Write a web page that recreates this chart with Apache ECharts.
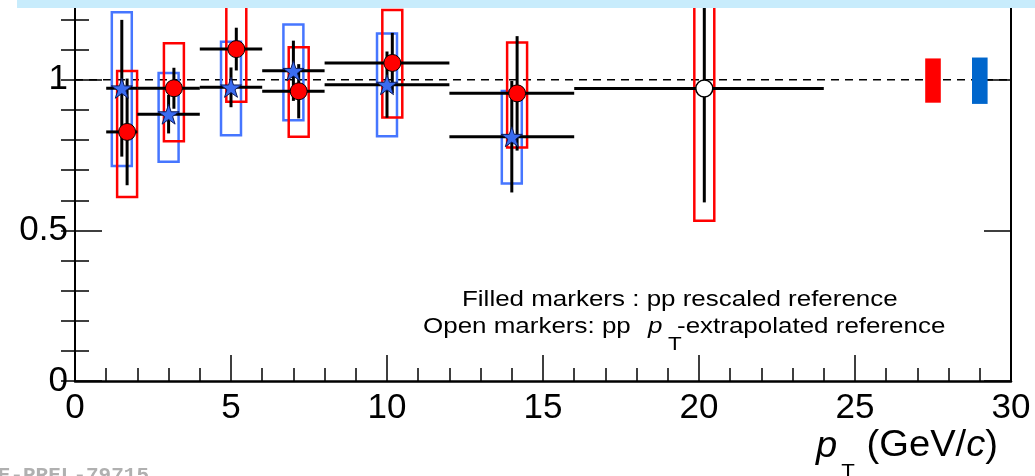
<!DOCTYPE html>
<html>
<head>
<meta charset="utf-8">
<script src="https://cdn.jsdelivr.net/npm/echarts@6/dist/echarts.min.js"></script>
<style>
  html, body { margin: 0; padding: 0; background: #ffffff; }
  #chart { width: 1035px; height: 476px; }
</style>
</head>
<body>
<div id="chart"></div>
<script>
// ---- pT bins (GeV/c) shared by both measurements ----
const binLow  = [1, 2, 4, 6, 8, 12];
const binHigh = [2, 4, 6, 8, 12, 16];

// ---- blue stars ----
const starPt      = [1.5, 3.0, 5.0, 7.0, 10.0, 14.0];
const starR       = [0.972, 0.886, 0.975, 1.030, 0.984, 0.811];
const starStat    = [0.227, 0.064, 0.066, 0.100, 0.110, 0.185];
const starSysLow  = [0.714, 0.728, 0.816, 0.866, 0.813, 0.656];
const starSysHigh = [1.224, 1.023, 1.126, 1.184, 1.154, 0.963];

// ---- red circles (pp rescaled reference) ----
const circPt      = [1.67, 3.17, 5.17, 7.17, 10.17, 14.17];
const circR       = [0.827, 0.972, 1.102, 0.962, 1.056, 0.955];
const circStat    = [0.177, 0.068, 0.071, 0.090, 0.100, 0.190];
const circSysLow  = [0.611, 0.796, 0.927, 0.811, 0.875, 0.775];
const circSysHigh = [1.029, 1.121, 1.277, 1.108, 1.232, 1.124];

// ---- open circle (pp pT-extrapolated reference) ----
const openBinLow  = [16];
const openBinHigh = [24];
const openPt      = [20.17];
const openR       = [0.971];
const openStat    = [0.378];
const openSysLow  = [0.532];
const openSysHigh = [1.41];

// ---- normalisation uncertainties ----
const normPt   = [27.5, 29.0];
const normLow  = [0.924, 0.920];
const normHigh = [1.071, 1.074];

// ---- reference line and tick labels ----
const unityX = [0, 30];
const unityY = [1, 1];
const xTickLabels = ['0', '5', '10', '15', '20', '25', '30'];
const yTickLabels = ['0', '0.5', '1'];

// ---- drawing constants ----
const BOX_HALF = 0.32;   // half width of systematic boxes (GeV/c)
const NORM_HALF = 0.25;  // half width of normalisation boxes (GeV/c)
const RED = '#ff0000';
const BLUE_BOX = '#4676ff';
const BLUE_NORM = '#0066cc';
const STAR_PATH = 'path://M50,0 L61.2,34.5 L97.6,34.5 L68.2,55.9 L79.4,90.5 L50,69.1 L20.6,90.5 L31.8,55.9 L2.4,34.5 L38.8,34.5 Z';
const FONT = '"Liberation Sans", Arial, Helvetica, sans-serif';

const chart = echarts.init(document.getElementById('chart'));

function rows(...cols) {
  return cols[0].map((_, i) => cols.map(c => c[i]));
}

function boxSeries(data, color, filled, halfWidth, z) {
  return {
    type: 'custom',
    coordinateSystem: 'cartesian2d',
    xAxisIndex: 0, yAxisIndex: 0,
    z: z,
    silent: true,
    data: data,
    encode: { x: 0, y: [1, 2] },
    renderItem: function (params, api) {
      const x = api.value(0), lo = api.value(1), hi = api.value(2);
      const p1 = api.coord([x - halfWidth, hi]);
      const p2 = api.coord([x + halfWidth, lo]);
      return {
        type: 'rect',
        shape: { x: p1[0], y: p1[1], width: p2[0] - p1[0], height: p2[1] - p1[1] },
        style: filled
          ? { fill: color, stroke: null }
          : { fill: 'rgba(0,0,0,0)', stroke: color, lineWidth: 2.5 }
      };
    }
  };
}

function errorSeries(data, z) {
  return {
    type: 'custom',
    coordinateSystem: 'cartesian2d',
    xAxisIndex: 0, yAxisIndex: 0,
    z: z,
    silent: true,
    data: data,
    encode: { x: [0, 2, 3], y: 1 },
    renderItem: function (params, api) {
      const x = api.value(0), y = api.value(1);
      const xl = api.value(2), xh = api.value(3), e = api.value(4);
      const l = api.coord([xl, y]), r = api.coord([xh, y]);
      const t = api.coord([x, y + e]), b = api.coord([x, y - e]);
      const st = { stroke: '#000', lineWidth: 3 };
      return {
        type: 'group',
        children: [
          { type: 'line', shape: { x1: l[0], y1: l[1], x2: r[0], y2: r[1] }, style: st },
          { type: 'line', shape: { x1: t[0], y1: t[1], x2: b[0], y2: b[1] }, style: st }
        ]
      };
    }
  };
}

function labelIn(list) {
  return function (v) {
    const s = String(Math.round(v * 1000) / 1000);
    return list.indexOf(s) >= 0 ? s : '';
  };
}

const yMax = 1.265;

const yAxisBase = {
  type: 'value', min: 0, max: yMax, gridIndex: 0,
  splitLine: { show: false }
};
const xAxisBase = {
  type: 'value', min: 0, max: 30, gridIndex: 0,
  splitLine: { show: false }
};

const option = {
  animation: false,
  backgroundColor: '#ffffff',
  grid: { left: 75, right: 24, top: 0, bottom: 95, containLabel: false },
  xAxis: [
    Object.assign({}, xAxisBase, {
      position: 'bottom', interval: 5,
      axisLine: { show: true, onZero: false, lineStyle: { color: '#000', width: 2.5 } },
      axisTick: { show: true, inside: true, length: 26, lineStyle: { color: '#000', width: 1.5 } },
      axisLabel: { show: true, margin: 10, fontSize: 35, fontFamily: FONT, color: '#000',
                   formatter: labelIn(xTickLabels) }
    }),
    Object.assign({}, xAxisBase, {
      position: 'bottom', interval: 1,
      axisLine: { show: false },
      axisTick: { show: true, inside: true, length: 13, lineStyle: { color: '#000', width: 1.5 } },
      axisLabel: { show: false }
    })
  ],
  yAxis: [
    Object.assign({}, yAxisBase, {
      position: 'left', interval: 0.5,
      axisLine: { show: true, onZero: false, lineStyle: { color: '#000', width: 2 } },
      axisTick: { show: true, inside: true, length: 27, lineStyle: { color: '#000', width: 1.5 } },
      axisLabel: { show: true, margin: 7, fontSize: 35, fontFamily: FONT, color: '#000',
                   showMaxLabel: false, formatter: labelIn(yTickLabels) }
    }),
    Object.assign({}, yAxisBase, {
      position: 'left', interval: 0.1,
      axisLine: { show: false },
      axisTick: { show: true, inside: true, length: 14, lineStyle: { color: '#000', width: 1.5 } },
      axisLabel: { show: false }
    }),
    Object.assign({}, yAxisBase, {
      position: 'right', interval: 0.5,
      axisLine: { show: true, onZero: false, lineStyle: { color: '#000', width: 2 } },
      axisTick: { show: true, inside: true, length: 27, lineStyle: { color: '#000', width: 1.5 } },
      axisLabel: { show: false }
    }),
    Object.assign({}, yAxisBase, {
      position: 'right', interval: 0.1,
      axisLine: { show: false },
      axisTick: { show: true, inside: true, length: 14, lineStyle: { color: '#000', width: 1.5 } },
      axisLabel: { show: false }
    })
  ],
  series: [
    {
      type: 'line', xAxisIndex: 0, yAxisIndex: 0, z: 1, silent: true,
      data: rows(unityX, unityY), showSymbol: false, symbol: 'none',
      lineStyle: { color: '#000', width: 1.5, type: [8, 6] }
    },
    boxSeries(rows(starPt, starSysLow, starSysHigh), BLUE_BOX, false, BOX_HALF, 2),
    boxSeries(rows(circPt, circSysLow, circSysHigh), RED, false, BOX_HALF, 3),
    boxSeries(rows(openPt, openSysLow, openSysHigh), RED, false, BOX_HALF, 3),
    boxSeries(rows(normPt.slice(0, 1), normLow.slice(0, 1), normHigh.slice(0, 1)), RED, true, NORM_HALF, 3),
    boxSeries(rows(normPt.slice(1), normLow.slice(1), normHigh.slice(1)), BLUE_NORM, true, NORM_HALF, 3),
    errorSeries(rows(starPt, starR, binLow, binHigh, starStat), 4),
    errorSeries(rows(circPt, circR, binLow, binHigh, circStat), 4),
    errorSeries(rows(openPt, openR, openBinLow, openBinHigh, openStat), 4),
    {
      type: 'scatter', xAxisIndex: 0, yAxisIndex: 0, z: 5, silent: true,
      data: rows(starPt, starR),
      symbol: STAR_PATH, symbolKeepAspect: true, symbolSize: 21,
      itemStyle: { color: '#3a6cf0', borderColor: '#0b1a5c', borderWidth: 1, opacity: 1 }
    },
    {
      type: 'scatter', xAxisIndex: 0, yAxisIndex: 0, z: 5, silent: true,
      data: rows(circPt, circR),
      symbol: 'circle', symbolSize: 17,
      itemStyle: { color: RED, borderColor: '#000', borderWidth: 1, opacity: 1 }
    },
    {
      type: 'scatter', xAxisIndex: 0, yAxisIndex: 0, z: 5, silent: true,
      data: rows(openPt, openR),
      symbol: 'circle', symbolSize: 17,
      itemStyle: { color: '#ffffff', borderColor: '#000', borderWidth: 1.5, opacity: 1 }
    }
  ],
  graphic: [
    // top strip
    { type: 'rect', z: 100, silent: true,
      shape: { x: 17, y: 0, width: 1018, height: 8 },
      style: { fill: '#c8ecfc' } },
    // annotation
    { type: 'text', z: 50, x: 462, y: 300, scaleX: 1.18, silent: true,
      style: { text: 'Filled markers : pp rescaled reference', font: '22px ' + FONT,
               fill: '#000', textAlign: 'left', textVerticalAlign: 'middle' } },
    { type: 'text', z: 50, x: 423, y: 327, scaleX: 1.18, silent: true,
      style: { text: 'Open markers: pp', font: '22px ' + FONT,
               fill: '#000', textAlign: 'left', textVerticalAlign: 'middle' } },
    { type: 'text', z: 50, x: 648, y: 327, scaleX: 1.18, silent: true,
      style: { text: 'p', font: 'italic 22px ' + FONT,
               fill: '#000', textAlign: 'left', textVerticalAlign: 'middle' } },
    { type: 'text', z: 50, x: 668, y: 345, scaleX: 1.18, silent: true,
      style: { text: 'T', font: '19px ' + FONT,
               fill: '#000', textAlign: 'left', textVerticalAlign: 'middle' } },
    { type: 'text', z: 50, x: 677, y: 327, scaleX: 1.18, silent: true,
      style: { text: '-extrapolated reference', font: '22px ' + FONT,
               fill: '#000', textAlign: 'left', textVerticalAlign: 'middle' } },
    // x axis title
    { type: 'text', z: 50, x: 816, y: 447, scaleX: 1.06, silent: true,
      style: { text: 'p', font: 'italic 36px ' + FONT,
               fill: '#000', textAlign: 'left', textVerticalAlign: 'middle' } },
    { type: 'text', z: 50, x: 848, y: 472, scaleX: 1.06, silent: true,
      style: { text: 'T', font: '21px ' + FONT,
               fill: '#000', textAlign: 'center', textVerticalAlign: 'middle' } },
    { type: 'text', z: 50, x: 998, y: 446, scaleX: 1.06, silent: true,
      style: { text: '(GeV/{i|c})', font: '36px ' + FONT,
               fill: '#000', textAlign: 'right', textVerticalAlign: 'middle',
               rich: { i: { fontStyle: 'italic', fontSize: 36, fontFamily: FONT, fill: '#000' } } } },
    // preliminary tag
    { type: 'text', z: 50, x: 149, y: 465, silent: true,
      style: { text: 'ALICE-PREL-79715', font: 'bold 21px "Liberation Mono", monospace',
               fill: '#b0b0b0', textAlign: 'right', textVerticalAlign: 'top' } }
  ]
};

chart.setOption(option);
</script>
</body>
</html>
